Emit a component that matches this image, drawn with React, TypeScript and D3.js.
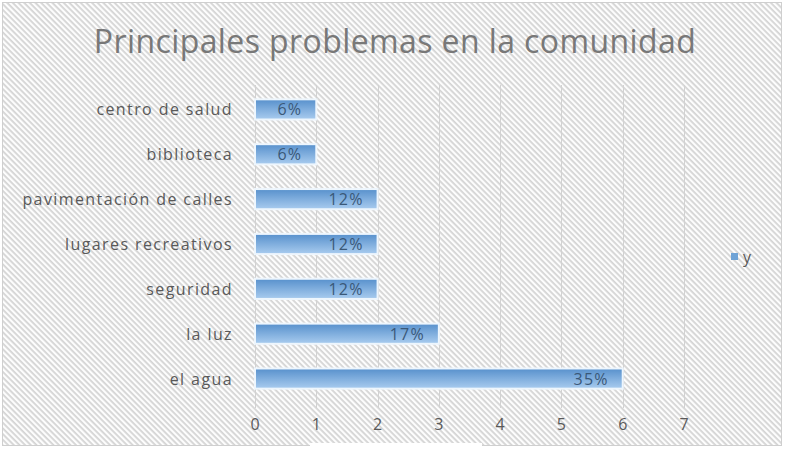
import React, { useRef, useEffect } from 'react';
import * as d3 from 'd3';

const categories = [
  'centro de salud',
  'biblioteca',
  'pavimentación de calles',
  'lugares recreativos',
  'seguridad',
  'la luz',
  'el agua',
];
const values = [1, 1, 2, 2, 2, 3, 6];
const percentLabels = ['6%', '6%', '12%', '12%', '12%', '17%', '35%'];
const xTicks = [0, 1, 2, 3, 4, 5, 6, 7];
const seriesName = 'y';
const title = 'Principales problemas en la comunidad';

const App = () => {
  const ref = useRef<SVGSVGElement>(null);

  useEffect(() => {
    if (!ref.current) return;
    const svg = d3.select(ref.current);
    svg.selectAll('*').remove();

    const width = 785;
    const height = 450;
    const font = "'Open Sans', 'DejaVu Sans', sans-serif";

    const defs = svg.append('defs');

    // fondo rayado
    const pat = defs
      .append('pattern')
      .attr('id', 'hatch')
      .attr('patternUnits', 'userSpaceOnUse')
      .attr('width', 4)
      .attr('height', 4)
      .attr('patternTransform', 'rotate(45)');
    pat.append('rect').attr('width', 4).attr('height', 4).attr('fill', '#fdfdfd');
    pat
      .append('rect')
      .attr('width', 4)
      .attr('height', 1.8)
      .attr('fill', '#d4d4d4');

    const grad = defs
      .append('linearGradient')
      .attr('id', 'barGrad')
      .attr('x1', 0)
      .attr('y1', 0)
      .attr('x2', 0)
      .attr('y2', 1);
    grad.append('stop').attr('offset', '0%').attr('stop-color', '#5790cc');
    grad.append('stop').attr('offset', '100%').attr('stop-color', '#a9ccef');

    svg.append('rect').attr('width', width).attr('height', height).attr('fill', '#ffffff');
    svg
      .append('rect')
      .attr('x', 2.5)
      .attr('y', 2.5)
      .attr('width', 779)
      .attr('height', 443)
      .attr('fill', 'url(#hatch)')
      .attr('stroke', '#cfcfcf');
    svg
      .append('rect')
      .attr('x', 310)
      .attr('y', 443)
      .attr('width', 172)
      .attr('height', 7)
      .attr('fill', '#ffffff');

    // título
    svg
      .append('text')
      .attr('x', 395)
      .attr('y', 53)
      .attr('text-anchor', 'middle')
      .attr('font-size', 32)
      .attr('letter-spacing', 0.4)
      .attr('fill', '#787878')
      .style('font-family', font)
      .text(title);

    const x = d3.scaleLinear().domain([0, 7]).range([255, 684]);
    const y = d3.scaleBand().domain(categories).range([87, 401]).paddingInner(0.55).paddingOuter(0.275);

    // líneas de cuadrícula
    svg
      .append('g')
      .selectAll('line')
      .data(xTicks)
      .enter()
      .append('line')
      .attr('x1', (d) => Math.round(x(d)) + 0.5)
      .attr('x2', (d) => Math.round(x(d)) + 0.5)
      .attr('y1', 85)
      .attr('y2', 408)
      .attr('stroke', '#d2d2d2')
      .attr('stroke-width', 1);

    // barras
    svg
      .append('g')
      .selectAll('rect')
      .data(values)
      .enter()
      .append('rect')
      .attr('x', x(0))
      .attr('y', (d, i) => y(categories[i]) as number)
      .attr('width', (d) => x(d) - x(0))
      .attr('height', y.bandwidth())
      .attr('fill', 'url(#barGrad)')
      .attr('stroke', '#eef6fd')
      .attr('stroke-width', 2);

    // etiquetas de porcentaje
    svg
      .append('g')
      .selectAll('text')
      .data(values)
      .enter()
      .append('text')
      .attr('x', (d) => x(d) - 14)
      .attr('y', (d, i) => (y(categories[i]) as number) + y.bandwidth() / 2 + 6)
      .attr('text-anchor', 'end')
      .attr('font-size', 16)
      .attr('letter-spacing', 1.2)
      .attr('fill', '#3a5878')
      .style('font-family', font)
      .text((d, i) => percentLabels[i]);

    // categorías
    svg
      .append('g')
      .selectAll('text')
      .data(categories)
      .enter()
      .append('text')
      .attr('x', 233)
      .attr('y', (d) => (y(d) as number) + y.bandwidth() / 2 + 6)
      .attr('text-anchor', 'end')
      .attr('font-size', 16)
      .attr('letter-spacing', 1.4)
      .attr('fill', '#595959')
      .style('font-family', font)
      .text((d) => d);

    // eje x
    svg
      .append('g')
      .selectAll('text')
      .data(xTicks)
      .enter()
      .append('text')
      .attr('x', (d) => x(d))
      .attr('y', 430)
      .attr('text-anchor', 'middle')
      .attr('font-size', 16)
      .attr('fill', '#595959')
      .style('font-family', font)
      .text((d) => d);

    // leyenda
    svg
      .append('rect')
      .attr('x', 731)
      .attr('y', 253)
      .attr('width', 7)
      .attr('height', 7)
      .attr('fill', '#6fa3d6');
    svg
      .append('text')
      .attr('x', 743)
      .attr('y', 263)
      .attr('font-size', 16)
      .attr('fill', '#595959')
      .style('font-family', font)
      .text(seriesName);
  }, []);

  return (
    <svg
      ref={ref}
      width={785}
      height={450}
      style={{ position: 'absolute', left: 0, top: 0, display: 'block' }}
    />
  );
};

export default App;
